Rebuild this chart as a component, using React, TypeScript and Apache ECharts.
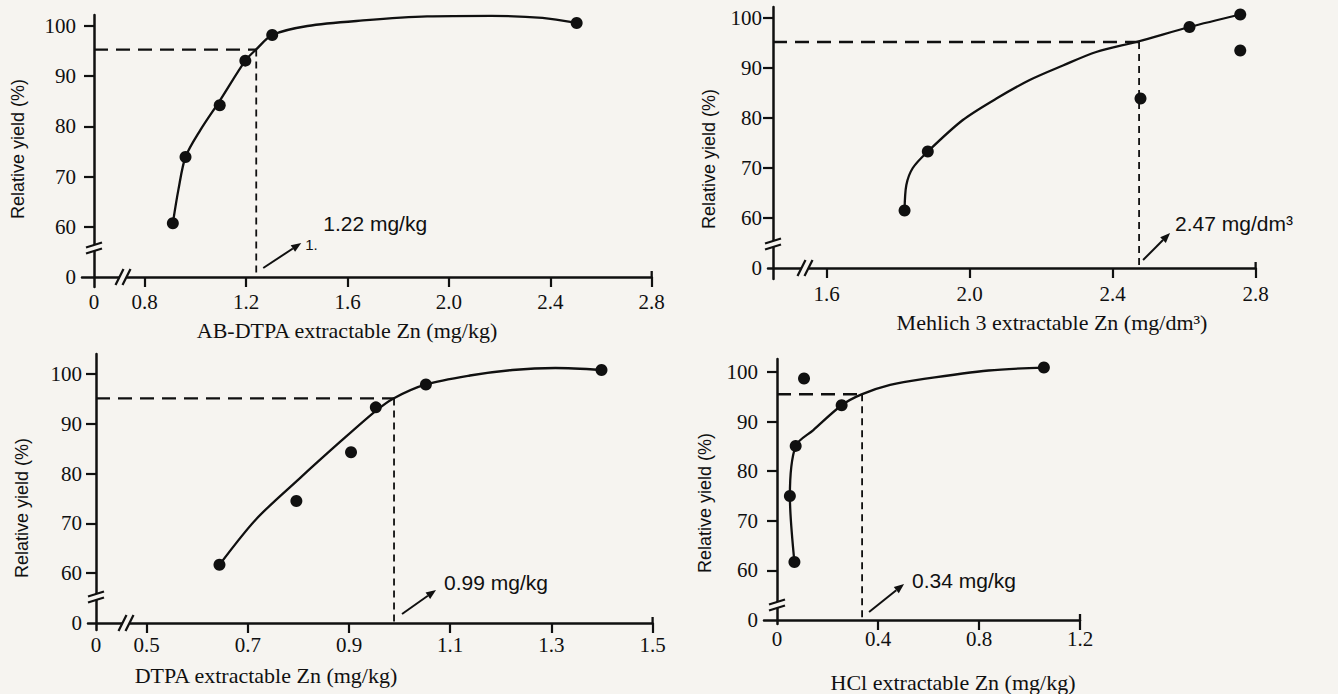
import React, { useEffect, useRef } from "react";
import * as echarts from "echarts";

// ---------- DATA ----------
// Panel A: AB-DTPA extractable Zn (mg/kg)
const abdtpaPointsX = [0.911, 0.961, 1.096, 1.197, 1.303, 2.504];
const abdtpaPointsY = [60.7, 73.9, 84.2, 93.1, 98.2, 100.6];
const abdtpaCurveX = [0.911, 0.933, 0.961, 1.02, 1.096, 1.197, 1.239, 1.303, 1.442, 1.661, 1.914, 2.167, 2.369, 2.504];
const abdtpaCurveY = [60.7, 67.4, 73.9, 79.3, 85.1, 93.1, 95.3, 98.2, 100.0, 101.1, 101.9, 102.0, 101.6, 100.6];
const abdtpaTicks = [0.8, 1.2, 1.6, 2.0, 2.4, 2.8];

// Panel B: Mehlich 3 extractable Zn (mg/dm3)
const mehlichPointsX = [1.818, 1.883, 2.478, 2.615, 2.757, 2.757];
const mehlichPointsY = [61.5, 73.3, 83.9, 98.2, 100.7, 93.5];
const mehlichCurveX = [1.818, 1.823, 1.841, 1.883, 1.981, 2.075, 2.168, 2.261, 2.354, 2.471, 2.615, 2.757];
const mehlichCurveY = [61.5, 66.6, 70.0, 73.3, 79.6, 83.9, 87.6, 90.5, 93.2, 95.3, 98.2, 100.7];
const mehlichTicks = [1.6, 2.0, 2.4, 2.8];

// Panel C: DTPA extractable Zn (mg/kg)
const dtpaPointsX = [0.644, 0.796, 0.904, 0.953, 1.052, 1.399];
const dtpaPointsY = [61.7, 74.5, 84.3, 93.3, 97.9, 100.8];
const dtpaCurveX = [0.644, 0.716, 0.801, 0.885, 0.953, 0.988, 1.052, 1.139, 1.223, 1.308, 1.399];
const dtpaCurveY = [61.7, 70.8, 78.9, 86.6, 92.6, 95.1, 97.9, 99.7, 100.8, 101.2, 100.8];
const dtpaTicks = [0.5, 0.7, 0.9, 1.1, 1.3, 1.5];

// Panel D: HCl extractable Zn (mg/kg)
const hclPointsX = [0.107, 0.256, 0.074, 0.051, 0.069, 1.057];
const hclPointsY = [98.7, 93.3, 85.1, 75.0, 61.7, 100.9];
const hclCurveX = [0.069, 0.051, 0.074, 0.144, 0.256, 0.335, 0.448, 0.582, 0.838, 1.057];
const hclCurveY = [61.7, 75.0, 85.1, 88.3, 93.3, 95.5, 97.4, 98.6, 100.3, 100.9];
const hclTicks = [0.4, 0.8, 1.2];

const yTickValues = [60, 70, 80, 90, 100];

// critical levels (x at 95 % relative yield)
const critXs = [1.24, 2.474, 0.989, 0.337];
const critYs = [95.3, 95.2, 95.1, 95.5];
const critLabels = ["1.22 mg/kg", "2.47 mg/dm³", "0.99 mg/kg", "0.34 mg/kg"];
const xTitles = [
  "AB-DTPA extractable Zn (mg/kg)",
  "Mehlich 3 extractable Zn (mg/dm³)",
  "DTPA extractable Zn (mg/kg)",
  "HCl extractable Zn (mg/kg)",
];
const yTitle = "Relative yield (%)";

// ---------- LAYOUT / STYLE ----------
const BG = "#f6f4f0";
const INK = "#101010";
const SERIF = '"Liberation Serif", "Times New Roman", serif';
const SANS = '"Liberation Sans", Arial, sans-serif';
const Y_SHIFT = 50; // value drawn at the broken "0" position

type Layout = {
  X0: number; sx: number; xOff: number; overL: number; xMaxVal: number;
  Y0: number; sy: number; overB: number; topPx: number; xZero: boolean;
  xBreakPx: number | null; yBreakPx: number;
  arrow: number[]; text: number[]; xTitle: number[]; yTitle: number[]; extra?: { t: string; dx: number; dy: number };
};

const layouts: Layout[] = [
  { X0: 94, sx: 253.5, xOff: 0.6, overL: 12, xMaxVal: 2.8, Y0: 277, sy: 5.02, overB: 10, topPx: 15, xZero: true,
    xBreakPx: 29, yBreakPx: 29, arrow: [7, -9, 45, -34], text: [67, -54], xTitle: [347, 330], yTitle: [18, 149],
    extra: { t: "1.", dx: 49, dy: -33 } },
  { X0: 773, sx: 357.5, xOff: 1.45, overL: 5, xMaxVal: 2.8, Y0: 268, sy: 5.0, overB: 11, topPx: 7, xZero: false,
    xBreakPx: 32, yBreakPx: 24, arrow: [4, -8, 31, -35], text: [36, -45], xTitle: [1052, 322], yTitle: [709, 159] },
  { X0: 96, sx: 506, xOff: 0.4, overL: 8, xMaxVal: 1.5, Y0: 623, sy: 4.98, overB: 7, topPx: 354, xZero: true,
    xBreakPx: 30, yBreakPx: 26, arrow: [8, -9, 42, -33], text: [50, -41], xTitle: [266, 675], yTitle: [22, 508] },
  { X0: 777, sx: 252.5, xOff: 0, overL: 13, xMaxVal: 1.2, Y0: 620, sy: 4.96, overB: 4, topPx: 359, xZero: true,
    xBreakPx: null, yBreakPx: 15, arrow: [7, -8, 42, -36], text: [50, -40], xTitle: [953, 682], yTitle: [705, 503] },
];

const panels = [
  { px: abdtpaPointsX, py: abdtpaPointsY, cx: abdtpaCurveX, cy: abdtpaCurveY, ticks: abdtpaTicks },
  { px: mehlichPointsX, py: mehlichPointsY, cx: mehlichCurveX, cy: mehlichCurveY, ticks: mehlichTicks },
  { px: dtpaPointsX, py: dtpaPointsY, cx: dtpaCurveX, cy: dtpaCurveY, ticks: dtpaTicks },
  { px: hclPointsX, py: hclPointsY, cx: hclCurveX, cy: hclCurveY, ticks: hclTicks },
];

const key = (v: number) => v.toFixed(3);

function buildOption() {
  const grid: any[] = [];
  const xAxis: any[] = [];
  const yAxis: any[] = [];
  const series: any[] = [];
  panels.forEach((p, i) => {
    const L = layouts[i];
    const xMin = -L.overL / L.sx;
    const xMax = L.xMaxVal - L.xOff;
    const yMin = -L.overB / L.sy;
    const yMax = (L.Y0 - L.topPx) / L.sy;
    grid.push({
      left: L.X0 - L.overL,
      top: L.topPx,
      width: L.overL + xMax * L.sx,
      height: L.Y0 + L.overB - L.topPx,
    });
    const xMap = new Map<string, string>();
    if (L.xZero) xMap.set(key(0), "0");
    p.ticks.forEach((t) => xMap.set(key(t - L.xOff), t.toFixed(1)));
    const xLabelVals = (L.xZero ? [0] : []).concat(p.ticks.map((t) => t - L.xOff));
    xAxis.push({
      type: "value", gridIndex: i, min: xMin, max: xMax,
      axisLine: { onZero: true, lineStyle: { color: INK, width: 2.5 } },
      axisTick: { show: true, inside: false, length: 10, customValues: p.ticks.map((t) => t - L.xOff), lineStyle: { color: INK, width: 2.2 } },
      axisLabel: {
        customValues: xLabelVals,
        formatter: (v: number) => xMap.get(key(v)) ?? "",
        fontFamily: SERIF, fontSize: 21, color: INK, margin: 4,
      },
      splitLine: { show: false },
    });
    const yMap = new Map<string, string>();
    yMap.set(key(0), "0");
    yTickValues.forEach((t) => yMap.set(key(t - Y_SHIFT), String(t)));
    yAxis.push({
      type: "value", gridIndex: i, min: yMin, max: yMax,
      axisLine: { onZero: true, lineStyle: { color: INK, width: 2.5 } },
      axisTick: { show: true, inside: false, length: 10, customValues: yTickValues.map((t) => t - Y_SHIFT), lineStyle: { color: INK, width: 2.2 } },
      axisLabel: {
        customValues: [0].concat(yTickValues.map((t) => t - Y_SHIFT)),
        formatter: (v: number) => yMap.get(key(v)) ?? "",
        fontFamily: SERIF, fontSize: 21, color: INK, margin: 6,
      },
      splitLine: { show: false },
    });
    const cxp = critXs[i] - L.xOff;
    const cyp = critYs[i] - Y_SHIFT;
    series.push({
      type: "line", xAxisIndex: i, yAxisIndex: i, silent: true, z: 2,
      data: [[0, cyp], [cxp, cyp]], symbol: "none",
      lineStyle: { color: INK, width: 2.4, type: [14, 8] },
    });
    series.push({
      type: "line", xAxisIndex: i, yAxisIndex: i, silent: true, z: 2,
      data: [[cxp, cyp], [cxp, 0]], symbol: "none",
      lineStyle: { color: INK, width: 1.8, type: [7, 5] },
    });
    series.push({
      type: "line", xAxisIndex: i, yAxisIndex: i, silent: true, z: 3,
      data: p.cx.map((x, k) => [x - L.xOff, p.cy[k] - Y_SHIFT]),
      smooth: 0.3, symbol: "none",
      lineStyle: { color: INK, width: 2.3 },
    });
    series.push({
      type: "scatter", xAxisIndex: i, yAxisIndex: i, silent: true, z: 4,
      data: p.px.map((x, k) => [x - L.xOff, p.py[k] - Y_SHIFT]),
      symbol: "circle", symbolSize: 12, itemStyle: { color: INK, opacity: 1 },
    });
  });
  return { animation: false, backgroundColor: BG, grid, xAxis, yAxis, series };
}

function txt(x: number, y: number, text: string, font: string, align: string, rotation = 0) {
  return {
    type: "text", x, y, rotation, z: 10,
    style: { text, font, fill: INK, align, verticalAlign: "middle", textAlign: align, textVerticalAlign: "middle" },
  };
}

function seg(x1: number, y1: number, x2: number, y2: number, w = 2.3) {
  return { type: "line", z: 10, shape: { x1, y1, x2, y2 }, style: { stroke: INK, lineWidth: w } };
}

function buildGraphics(chart: any) {
  const els: any[] = [];
  panels.forEach((p, i) => {
    const L = layouts[i];
    const o = chart.convertToPixel({ gridIndex: i }, [0, 0]);
    const crit = chart.convertToPixel({ gridIndex: i }, [critXs[i] - L.xOff, 0]);
    const end = chart.convertToPixel({ gridIndex: i }, [L.xMaxVal - L.xOff, 0]);
    // end bar of x axis (rising part)
    els.push(seg(end[0], end[1], end[0], end[1] - 6));
    // y-axis break
    const bx = o[0], by = o[1] - L.yBreakPx;
    els.push({ type: "rect", z: 9, shape: { x: bx - 3, y: by - 3, width: 6, height: 6 }, style: { fill: BG } });
    els.push(seg(bx - 8, by - 0.5, bx + 8, by - 5.5));
    els.push(seg(bx - 8, by + 5.5, bx + 8, by + 0.5));
    // x-axis break
    if (L.xBreakPx != null) {
      const cx = o[0] + L.xBreakPx, cy = o[1];
      els.push({ type: "rect", z: 9, shape: { x: cx - 3.5, y: cy - 3, width: 7, height: 6 }, style: { fill: BG } });
      els.push(seg(cx - 7.5, cy + 8, cx + 0.5, cy - 8));
      els.push(seg(cx - 0.5, cy + 8, cx + 7.5, cy - 8));
    }
    // arrow
    const a1 = [crit[0] + L.arrow[0], crit[1] + L.arrow[1]];
    const a2 = [crit[0] + L.arrow[2], crit[1] + L.arrow[3]];
    const dx = a2[0] - a1[0], dy = a2[1] - a1[1];
    const len = Math.sqrt(dx * dx + dy * dy);
    const ux = dx / len, uy = dy / len;
    const hl = 10, hw = 4;
    const bx2 = a2[0] - ux * hl, by2 = a2[1] - uy * hl;
    els.push(seg(a1[0], a1[1], bx2, by2, 2));
    els.push({
      type: "polygon", z: 10,
      shape: { points: [a2, [bx2 - uy * hw, by2 + ux * hw], [bx2 + uy * hw, by2 - ux * hw]] },
      style: { fill: INK },
    });
    els.push(txt(crit[0] + L.text[0], crit[1] + L.text[1], critLabels[i], `21px ${SANS}`, "left"));
    if (L.extra) els.push(txt(crit[0] + L.extra.dx, crit[1] + L.extra.dy, L.extra.t, `15px ${SANS}`, "left"));
    // axis titles
    els.push(txt(L.xTitle[0], L.xTitle[1], xTitles[i], `22px ${SERIF}`, "center"));
    els.push(txt(L.yTitle[0], L.yTitle[1], yTitle, `18px ${SANS}`, "center", Math.PI / 2));
  });
  return els;
}

export default function App() {
  const ref = useRef<HTMLDivElement>(null);
  useEffect(() => {
    if (!ref.current) return;
    const chart = echarts.init(ref.current, null, { renderer: "svg" });
    chart.setOption(buildOption() as any);
    chart.setOption({ graphic: { elements: buildGraphics(chart) } } as any);
    return () => chart.dispose();
  }, []);
  return (
    <div
      ref={ref}
      style={{ position: "fixed", left: 0, top: 0, width: 1338, height: 694, background: BG }}
    />
  );
}
